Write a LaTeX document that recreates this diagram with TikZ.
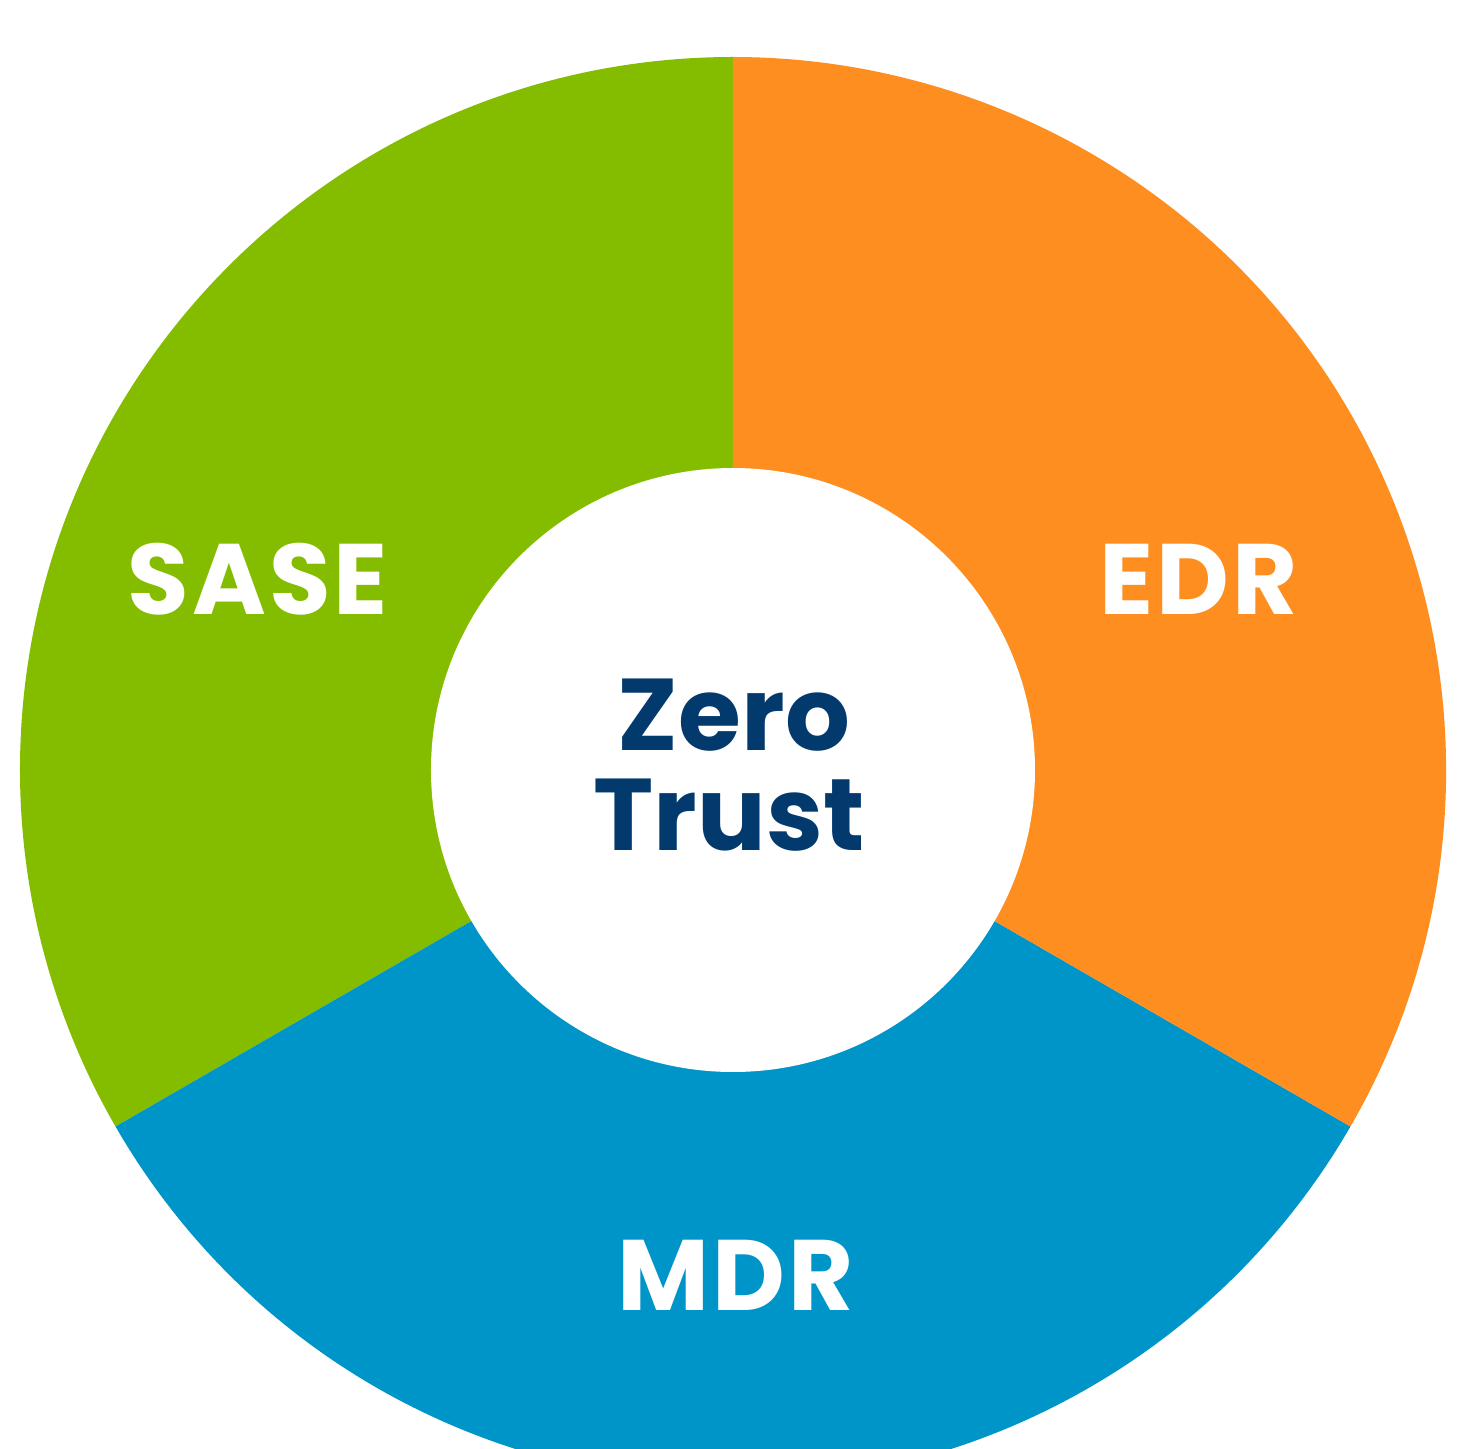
\documentclass[tikz,border=0pt]{standalone}
\usepackage{fontspec}
\setmainfont{Poppins}
\definecolor{sasegreen}{HTML}{84BD00}
\definecolor{edrorange}{HTML}{FD8E1F}
\definecolor{mdrblue}{HTML}{0095C8}
\definecolor{ztnavy}{HTML}{033A6E}
\tikzset{
  seglabel/.style={text=white, font=\fontsize{28.5}{30}\selectfont\bfseries\addfontfeature{LetterSpace=3}, anchor=base, inner sep=0pt},
  centerlabel/.style={text=ztnavy, font=\fontsize{29}{28.5}\selectfont\bfseries, anchor=base, inner sep=0pt, align=center}
}
\begin{document}
\begin{tikzpicture}
\useasboundingbox (-7.33,-6.79) rectangle (7.33,7.70);
\clip (-7.33,-6.79) rectangle (7.33,7.70);
\fill[white] (-7.33,-6.79) rectangle (7.33,7.70);
\fill[sasegreen] (0,0) -- (90:7.13) arc (90:210:7.13) -- cycle;
\fill[mdrblue] (0,0) -- (210:7.13) arc (210:330:7.13) -- cycle;
\fill[edrorange] (0,0) -- (-30:7.13) arc (-30:90:7.13) -- cycle;
\fill[white] (0,0) circle (3.02);
\node[seglabel] (sase) at (-4.75,1.55) {SASE};
\node[seglabel] (edr) at (4.655,1.55) {EDR};
\node[seglabel] (mdr) at (0.025,-5.40) {MDR};
\node[centerlabel] (zero) at (0.01,0.20) {Zero};
\node[centerlabel] (trust) at (-0.04,-0.80) {Trust};
\end{tikzpicture}
\end{document}
